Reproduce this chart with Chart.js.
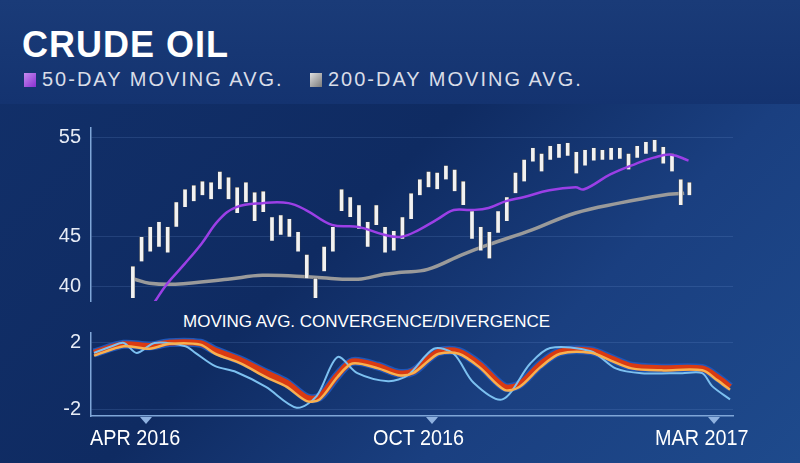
<!DOCTYPE html>
<html><head><meta charset="utf-8">
<script src="https://cdn.jsdelivr.net/npm/chart.js@4"></script>
<style>
body{margin:0;width:800px;height:463px;overflow:hidden;font-family:"Liberation Sans",Arial,sans-serif;
background:linear-gradient(135deg,#12306a 0%,#0f2b62 45%,#1a3f80 70%,#1e4a8c 100%);position:relative}
#hdr{position:absolute;left:0;top:0;width:800px;height:104px;background:linear-gradient(180deg,#1a3b78,#143370)}
.t{position:absolute;color:#fff;white-space:nowrap}
canvas{position:absolute}
.tri{position:absolute;width:0;height:0;border-left:6px solid transparent;border-right:6px solid transparent;border-top:7px solid #8fb2e0}
</style></head><body>
<div id="hdr"></div>
<div class="t" style="left:22px;top:24px;font-size:36px;font-weight:bold;letter-spacing:1px">CRUDE OIL</div>
<div style="position:absolute;left:24px;top:73px;width:12px;height:14px;background:linear-gradient(135deg,#c58cf0,#8a2fd0)"></div>
<div class="t" style="left:42px;top:68px;font-size:20px;letter-spacing:2px;color:#d9dde8">50-DAY MOVING AVG.</div>
<div style="position:absolute;left:310px;top:73px;width:12px;height:14px;background:linear-gradient(135deg,#e0e0e0,#7a7a7a)"></div>
<div class="t" style="left:328px;top:68px;font-size:20px;letter-spacing:2px;color:#d9dde8">200-DAY MOVING AVG.</div>
<div class="t" style="left:183px;top:312px;font-size:17px">MOVING AVG. CONVERGENCE/DIVERGENCE</div>
<canvas id="c1" style="left:0;top:106px;width:800px;height:217px" width="800" height="217"></canvas>
<canvas id="c2" style="left:0;top:311px;width:800px;height:127px" width="800" height="127"></canvas>
<div class="tri" style="left:140px;top:417px"></div>
<div class="tri" style="left:426px;top:417px"></div>
<div class="tri" style="left:708px;top:417px"></div>
<div class="t" style="left:90px;top:425px;font-size:22px;transform:scaleX(0.9);transform-origin:left">APR 2016</div>
<div class="t" style="left:373px;top:425px;font-size:22px;transform:scaleX(0.9);transform-origin:left">OCT 2016</div>
<div class="t" style="left:655px;top:425px;font-size:22px;transform:scaleX(0.9);transform-origin:left">MAR 2017</div>
<script>
const price=[40.5,43.8,44.5,45.5,44.2,47,49,49.3,50,49.7,50.8,50,48.5,50,47.7,49,45.7,46.2,46,44.5,42,39.5,42.5,44.5,49.2,48,47,45,47.5,44.5,44.5,45.7,48,50,51,50.7,51.7,50.7,49.5,45.7,45,44,46.4,47.7,50.4,51.5,53.4,52.4,53.5,53.7,54,52.5,53,53.4,53.4,53.4,53.5,52.4,53.6,54,54.2,53.2,52.7,49.5,49.8];
const hi=[42,45,46,46.5,46,48.5,49.8,50.2,50.6,50.5,51.6,51,50,50.5,49.5,49.6,47,47.2,46.8,45.5,43.2,40.8,44,46,49.8,49,48.2,46.5,48.2,46,45.6,47,49.4,50.8,51.6,51.5,52.2,51.8,50.6,47.6,46,45.5,47.6,49,51.5,52.8,54,53.4,54.2,54.4,54.5,53.6,53.8,54,53.8,54,54,53.4,54.2,54.6,54.8,54.1,53.4,50.8,50.5];
const lo=[38.8,42.5,43.5,44,43.4,46,48,48.6,49.2,48.8,49.8,48.8,47.4,48.5,46.6,47.5,44.6,45.2,45,43.5,40.8,38.8,41.5,43.5,47.6,47,45.8,44,46.2,43.4,43.6,44.8,46.8,49.2,50,49.8,50.8,49.6,48.2,44.8,43.6,42.8,45.4,46.6,49.4,50.6,52.6,51.6,52.8,53,53.2,51.4,52.2,52.7,52.8,52.8,52.9,51.8,53,53.4,53.6,52.4,51.6,48.2,49.2];
const ma50Idx=[2.5,3.9,5.9,7.9,9.9,11.9,14.9,17.9,19.9,22.9,25.9,28.9,30.9,32.9,34.9,36.9,38.9,40.9,42.9,44.9,47.9,50.9,51.9,54.9,57.9,59.9,61.9,63.9];
const ma50=[38.4,40.2,42.2,44.3,46.7,48,48.4,48.4,47.7,46.2,46,45.2,45,45.7,46.7,47.7,47.7,47.9,48.6,49,49.7,50,49.8,51.3,52.4,53,53.3,52.7];
const ma200Idx=[0.2,1.9,4.9,10.9,14.9,20.9,25.9,28.9,30.9,33.9,37.9,40.9,45.9,50.9,55.9,60.9,63.4];
const ma200=[40.7,40.3,40.2,40.7,41.1,40.9,40.7,41.2,41.4,41.7,43.2,44.2,45.7,47.4,48.4,49.2,49.4];
const sigIdx=[0.1,3.1,5.7,7.7,10.8,12.3,14.9,17.4,19.5,21.5,22.8,24.6,26.1,28.7,30.7,32.2,33.8,34.8,36.8,38.9,41.4,42.9,45,47,50.1,52.1,54.2,57.2,61.3,62.8,64.1];
const signal=[1.24,1.8,1.65,1.95,1.9,1.35,0.76,-0.06,-0.65,-1.5,-1.4,-0.05,0.76,0.47,0.06,0.18,0.94,1.35,1.35,0.53,-0.82,-0.65,0.53,1.35,1.41,0.94,0.47,0.35,0.35,-0.24,-0.82];
const redVals=[1.4,1.92,1.82,2.02,1.98,1.55,0.95,0.2,-0.4,-1.3,-1.25,0.05,0.88,0.6,0.18,0.28,1.08,1.48,1.48,0.7,-0.65,-0.5,0.7,1.48,1.53,1.08,0.6,0.48,0.46,-0.05,-0.65];
const macdIdx=[0.1,1.9,3.1,4.4,6.2,9.3,10.3,12.3,14.4,17.4,20.5,22.5,24.6,26.6,29.7,31.7,34.3,36.3,38.3,41.2,44,46,50.1,52.6,55.2,59.3,61.3,62.3,64.1];
const macd=[1.4,1.8,2.0,1.4,2.0,1.8,1.4,0.6,0.25,-0.65,-1.9,-1.2,1.15,0.18,-0.3,0.06,1.65,1.35,-0.4,-1.4,0.76,1.7,1.5,0.47,0.18,0.18,0.18,-0.6,-1.4];
const ticks1=[40,45,55], ticks2=[-2,2];

const pts=(xs,ys)=>xs.map((x,i)=>({x,y:ys[i]}));
const xScale={type:'linear',min:-0.2,max:64.4,display:false};
function yScale(min,max,tk){return{min,max,afterFit(s){s.width=91},afterBuildTicks(s){s.ticks=tk.map(v=>({value:v}))},
 border:{display:true,color:'#7fa6d8',width:1.5},grid:{color:'rgba(120,160,220,0.18)',drawTicks:false},
 ticks:{color:'#e6ebf5',font:{size:20,family:'Liberation Sans'},padding:10}}}
Chart.defaults.animation=false;
new Chart(document.getElementById('c1'),{data:{datasets:[
 {type:'line',data:pts(ma50Idx,ma50),borderColor:'#9b3fe6',borderWidth:2.5,pointRadius:0,tension:0.4},
 {type:'bar',data:price.map((p,i)=>({x:i,y:[lo[i],hi[i]]})),backgroundColor:'#f2f2f2',borderColor:'#444',borderWidth:0.5,barThickness:4},
 {type:'line',data:pts(ma200Idx,ma200),borderColor:'#9a9a9a',borderWidth:3.5,pointRadius:0,tension:0.4}
]},options:{responsive:false,layout:{padding:{left:0,right:67,top:0,bottom:0}},plugins:{legend:{display:false},tooltip:{enabled:false}},
 scales:{x:xScale,y:yScale(38.5,56,ticks1)}}});
new Chart(document.getElementById('c2'),{data:{datasets:[
 {type:'line',data:pts(sigIdx,signal),borderColor:'#f8b050',borderWidth:2.5,pointRadius:0,tension:0.3},
 {type:'line',data:pts(macdIdx,macd),borderColor:'#7cc0f0',borderWidth:2,pointRadius:0,tension:0.3},
 {type:'line',data:pts(sigIdx,redVals),borderColor:'#d93a12',borderWidth:6,pointRadius:0,tension:0.3},
 {type:'line',data:pts(sigIdx,redVals),borderColor:'#1f56b8',borderWidth:9,pointRadius:0,tension:0.3}
]},options:{responsive:false,layout:{padding:{left:0,right:67,top:0,bottom:0}},plugins:{legend:{display:false},tooltip:{enabled:false}},
 scales:{x:{...xScale,display:true,ticks:{display:false},grid:{display:false},border:{color:'#7fa6d8',width:1.5}},y:yScale(-2.4,2.6,ticks2)}}});
</script></body></html>
